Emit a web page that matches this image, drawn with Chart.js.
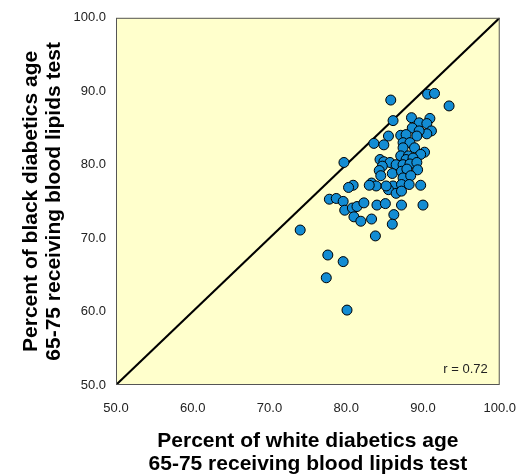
<!DOCTYPE html>
<html lang="en">
<head>
  <meta charset="UTF-8">
  <title>Blood lipids testing, black vs white diabetics</title>
  <script src="https://cdn.jsdelivr.net/npm/chart.js"></script>
  <style>
    html, body {
      margin: 0;
      padding: 0;
      background: #ffffff;
    }
    #wrap {
      width: 532px;
      height: 476px;
    }
  </style>
</head>
<body>
  <div id="wrap"><canvas id="grafico" width="532" height="476"></canvas></div>

  <script>
    // percent of white diabetics 65-75 tested (x) and black diabetics (y), one pair per region
    const whiteRates = [
      85.8, 90.6, 91.5, 93.4, 86.1, 88.5, 90.9, 89.5, 90.5, 88.6,
      91.1, 90.5, 85.5, 83.6, 84.9, 87.1, 87.8, 89.5, 89.2, 87.4,
      88.3, 87.4, 88.9, 90.2, 89.7,
      87.1, 88.1, 87.8, 88.7, 84.4, 84.9, 85.7, 86.5, 84.7, 87.4,
      88.3, 89.2, 84.3, 86.0, 87.2, 87.9, 89.3, 84.5, 87.4, 88.4,
      83.3, 83.9, 86.1, 87.2, 88.2, 89.7, 85.5, 86.5, 87.2, 79.7,
      80.9, 80.3, 83.0, 85.2,
      77.8, 78.7, 79.6, 79.8, 80.8, 81.4, 82.3, 84.0, 85.1, 87.2,
      90.0, 81.0, 81.9, 83.3, 86.2, 86.0, 83.8, 74.0, 77.6, 79.6,
      77.4, 80.1
    ];
    const blackRates = [
      88.8, 89.6, 89.7, 88.0, 86.0, 86.4, 86.3, 85.7, 85.6, 85.0,
      84.6, 84.2, 83.9, 82.9, 82.7, 84.0, 84.1, 84.6, 83.9, 83.0,
      83.0, 82.3, 82.3, 81.7, 81.4,
      81.2, 81.2, 80.7, 80.9, 80.7, 80.4, 80.3, 80.0, 79.8, 80.0,
      80.1, 80.3, 79.2, 78.8, 79.1, 79.4, 79.3, 78.5, 78.2, 78.5,
      77.5, 77.1, 77.1, 77.3, 77.3, 77.2, 76.6, 76.1, 76.4, 80.3,
      77.2, 76.9, 77.2, 77.1,
      75.3, 75.4, 75.0, 73.8, 74.1, 74.3, 74.8, 74.5, 74.7, 74.5,
      74.5, 72.9, 72.3, 72.6, 73.2, 71.9, 70.3, 71.1, 67.7, 66.8,
      64.6, 60.2
    ];
    const tickValues = [50, 60, 70, 80, 90, 100];
    const correlation = 'r = 0.72';

    const pontos = whiteRates.map((x, i) => ({ x, y: blackRates[i] }));
    const diagonal = [
      { x: tickValues[0], y: tickValues[0] },
      { x: tickValues[tickValues.length - 1], y: tickValues[tickValues.length - 1] }
    ];

    // yellow plot background, frame and the r label
    const moldura = {
      id: 'moldura',
      beforeDatasetsDraw(chart) {
        const { ctx, chartArea: a } = chart;
        ctx.save();
        ctx.fillStyle = '#ffffcc';
        ctx.fillRect(a.left, a.top, a.right - a.left, a.bottom - a.top);
        ctx.restore();
      },
      afterDraw(chart) {
        const { ctx, chartArea: a } = chart;
        ctx.save();
        ctx.strokeStyle = '#555555';
        ctx.lineWidth = 1;
        ctx.strokeRect(a.left + 0.5, a.top + 0.5, a.right - a.left - 1, a.bottom - a.top - 1);
        ctx.fillStyle = '#222222';
        ctx.font = '13px "Liberation Sans", Arial, sans-serif';
        ctx.textAlign = 'right';
        ctx.textBaseline = 'middle';
        ctx.fillText(correlation, a.right - 12, a.bottom - 16);
        ctx.restore();
      }
    };

    const fonteTick = { family: '"Liberation Sans", Arial, sans-serif', size: 13 };
    const fonteTitulo = { family: '"Liberation Sans", Arial, sans-serif', size: 21, weight: 'bold', lineHeight: 1.1 };

    function eixo(titulo, padTitulo, padTick, largura) {
      return {
        type: 'linear',
        min: tickValues[0],
        max: tickValues[tickValues.length - 1],
        afterBuildTicks(scale) {
          scale.ticks = tickValues.map(v => ({ value: v }));
        },
        afterFit(scale) {
          if (scale.isHorizontal()) scale.height = largura;
          else scale.width = largura;
        },
        grid: { display: false, drawTicks: false },
        border: { display: false },
        ticks: {
          font: fonteTick,
          color: '#222222',
          padding: padTick,
          maxRotation: 0,
          callback: v => v.toFixed(1)
        },
        title: {
          display: true,
          text: titulo,
          font: fonteTitulo,
          color: '#000000',
          padding: padTitulo
        }
      };
    }

    new Chart(document.getElementById('grafico'), {
      type: 'scatter',
      data: {
        datasets: [
          {
            data: pontos,
            backgroundColor: '#138cd3',
            borderColor: '#000000',
            borderWidth: 1,
            pointRadius: 5,
            pointHoverRadius: 5,
            order: 0
          },
          {
            type: 'line',
            data: diagonal,
            borderColor: '#000000',
            borderWidth: 2,
            pointRadius: 0,
            fill: false,
            order: 1
          }
        ]
      },
      options: {
        responsive: false,
        animation: false,
        layout: { padding: { left: 0, right: 32, top: 16, bottom: 0 } },
        plugins: {
          legend: { display: false },
          tooltip: { enabled: false }
        },
        scales: {
          x: eixo(['Percent of white diabetics age', '65-75 receiving blood lipids test'],
                  { top: 0, bottom: 0 }, 16, 91),
          y: eixo(['Percent of black diabetics age', '65-75 receiving blood lipids test'],
                  { top: 20, bottom: 0 }, 10, 116)
        }
      },
      plugins: [moldura]
    });
  </script>
</body>
</html>
